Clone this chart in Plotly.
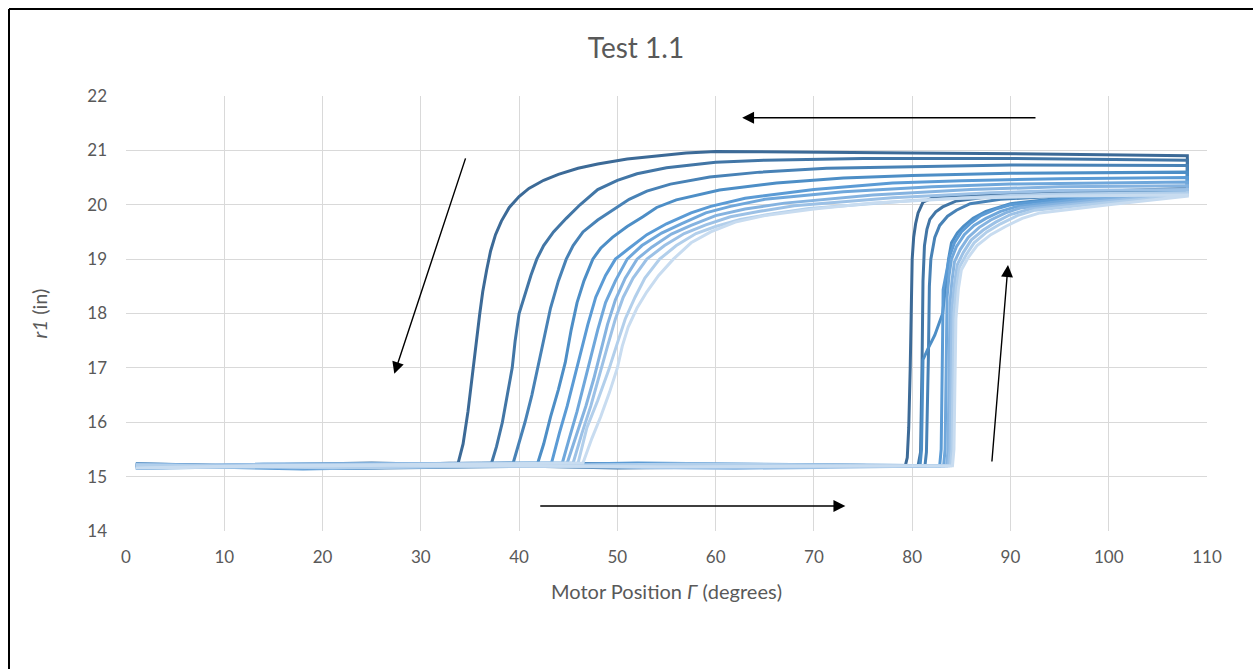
import plotly.graph_objects as go

# Ten load/unload cycles of r1 against motor position, darkest = first cycle.
CYCLE_COLORS = [
    "#3c6a97", "#4276a6", "#4882b6", "#4d8ec6", "#5b9bd5",
    "#6fa7db", "#85b3e0", "#9cc1e6", "#b2cfeb", "#c8dcf0",
]

# Loading branch (motor position increasing)
LOAD_X = [
    [1, 20, 45, 79.3, 79.5, 79.65, 79.8, 79.9, 80.0, 80.15, 80.35, 80.6, 81.1, 82, 84, 90, 100, 108],
    [1, 25, 50, 80.6, 80.85, 80.95, 81.0, 81.1, 81.25, 81.5, 81.8, 82.4, 83.1, 84.5, 87, 95, 108],
    [1, 22, 55, 81.3, 81.45, 81.55, 81.65, 81.75, 81.9, 82.3, 82.8, 83.6, 84.5, 85.9, 89, 97, 108],
    [1, 28, 60, 80.8, 80.95, 81.05, 81.1, 81.6, 82.3, 83.1, 83.4, 83.7, 84.0, 84.6, 85.2, 86.2, 87.5, 90, 96, 108],
    [1, 18, 52, 82.8, 82.95, 83.05, 83.1, 83.15, 83.5, 83.8, 84.3, 85.0, 86.0, 87.0, 88.5, 90, 96, 108],
    [1, 30, 58, 83.2, 83.35, 83.45, 83.5, 83.55, 83.75, 84.0, 84.5, 85.3, 86.3, 87.5, 89, 90.5, 97, 108],
    [1, 24, 48, 83.5, 83.65, 83.75, 83.8, 83.85, 84.05, 84.3, 84.9, 85.7, 86.8, 88.0, 89.5, 91, 98, 108],
    [1, 26, 62, 83.7, 83.85, 83.95, 84.0, 84.05, 84.3, 84.6, 85.2, 86.0, 87.2, 88.5, 90, 92, 99, 108],
    [1, 21, 57, 83.9, 84.05, 84.15, 84.2, 84.25, 84.5, 84.8, 85.5, 86.3, 87.6, 89.0, 90.7, 92.5, 100, 108],
    [1, 27, 54, 84.1, 84.25, 84.35, 84.4, 84.45, 84.7, 85.0, 85.7, 86.6, 88.0, 89.5, 91.2, 93, 100, 108],
]
LOAD_Y = [
    [15.22, 15.16, 15.24, 15.2, 15.35, 15.9, 17.0, 18.2, 19.0, 19.4, 19.65, 19.85, 20.05, 20.12, 20.15, 20.2, 20.25, 20.3],
    [15.18, 15.25, 15.16, 15.2, 15.45, 16.2, 17.0, 18.6, 19.25, 19.55, 19.73, 19.87, 19.96, 20.07, 20.13, 20.2, 20.28],
    [15.24, 15.15, 15.22, 15.2, 15.45, 16.2, 17.2, 18.5, 19.0, 19.4, 19.62, 19.79, 19.9, 20.02, 20.1, 20.18, 20.26],
    [15.16, 15.23, 15.18, 15.2, 15.5, 16.3, 17.15, 17.35, 17.6, 18.0, 18.5, 19.0, 19.3, 19.48, 19.6, 19.75, 19.88, 20.02, 20.14, 20.25],
    [15.21, 15.14, 15.25, 15.2, 15.5, 16.5, 17.6, 18.44, 18.8, 19.05, 19.3, 19.5, 19.67, 19.8, 19.92, 20.0, 20.12, 20.24],
    [15.15, 15.24, 15.17, 15.2, 15.5, 16.5, 17.6, 18.3, 18.7, 19.0, 19.23, 19.45, 19.62, 19.75, 19.88, 19.96, 20.1, 20.22],
    [15.23, 15.17, 15.22, 15.2, 15.5, 16.5, 17.5, 18.2, 18.6, 18.95, 19.18, 19.4, 19.58, 19.72, 19.85, 19.94, 20.08, 20.2],
    [15.17, 15.22, 15.15, 15.2, 15.5, 16.5, 17.4, 18.1, 18.55, 18.9, 19.12, 19.35, 19.53, 19.68, 19.82, 19.92, 20.06, 20.2],
    [15.22, 15.16, 15.23, 15.2, 15.5, 16.5, 17.3, 18.0, 18.5, 18.85, 19.08, 19.3, 19.5, 19.65, 19.8, 19.9, 20.04, 20.18],
    [15.16, 15.21, 15.18, 15.2, 15.5, 16.5, 17.2, 17.9, 18.45, 18.8, 19.03, 19.25, 19.45, 19.6, 19.75, 19.85, 20.0, 20.16],
]

# Unloading branch (motor position decreasing from 108 back to 1)
UNLOAD_X = [
    [108, 95, 80, 65, 60, 57, 54, 51, 48, 46, 44, 42.5, 41, 40, 39, 38.2, 37.6, 37.1, 36.7, 36.3, 36.0, 35.6, 35.2, 34.8, 34.3, 33.8, 20, 1],
    [108, 90, 75, 65, 60, 55, 52, 50, 48, 46.2, 44.8, 43.5, 42.5, 41.8, 41.2, 40.6, 40.0, 39.6, 39.3, 38.8, 38.3, 37.7, 37.2, 15, 1],
    [108, 90, 80, 71.3, 64.5, 59.4, 55.4, 53, 51.2, 49.5, 48, 46.5, 45.5, 44.8, 44, 43.2, 42.6, 42, 41.3, 40.6, 40, 39.4, 12, 1],
    [108, 90, 80, 73, 66.2, 60.4, 56, 54, 52.6, 51, 49.5, 48.3, 47.5, 46.6, 45.9, 45.3, 44.7, 44, 43.2, 42.5, 41.9, 16, 1],
    [108, 95, 85, 78, 70, 63, 59.5, 57.5, 55, 53, 51.2, 49.8, 48.8, 47.8, 47, 46.3, 45.6, 44.9, 44.1, 43.3, 10, 1],
    [108, 90, 82, 73, 65, 61.5, 59, 56.5, 54.5, 52.5, 51, 49.8, 48.8, 48, 47.3, 46.6, 45.9, 45.1, 44.4, 14, 1],
    [108, 95, 86, 76, 67, 63, 60, 57.5, 55.5, 53.5, 52, 50.8, 49.8, 49, 48.3, 47.6, 46.8, 45.9, 44.9, 17, 1],
    [108, 95, 88, 78, 68, 64.5, 61.5, 59, 56.8, 54.8, 53, 51.6, 50.6, 49.8, 49.0, 48.2, 47.3, 46.4, 45.5, 11, 1],
    [108, 95, 90, 80, 69.5, 66, 62.5, 60, 58, 56, 54.3, 52.8, 51.8, 50.8, 49.9, 49.1, 48.0, 46.9, 46.0, 19, 1],
    [108, 95, 85, 76, 70, 65, 62, 59.5, 57.5, 55.7, 54.2, 53, 52, 51.1, 50.5, 50, 49.2, 48.3, 47.4, 46.5, 13, 1],
]
UNLOAD_Y = [
    [20.90, 20.93, 20.95, 20.98, 20.98, 20.95, 20.9, 20.84, 20.75, 20.67, 20.56, 20.45, 20.3, 20.15, 19.95, 19.7, 19.45, 19.15, 18.8, 18.4, 18.0, 17.4, 16.8, 16.2, 15.6, 15.25, 15.18, 15.2],
    [20.82, 20.85, 20.85, 20.82, 20.78, 20.68, 20.57, 20.45, 20.28, 20.0, 19.75, 19.5, 19.25, 19.0, 18.7, 18.35, 18.0, 17.5, 17.0, 16.5, 16.0, 15.55, 15.25, 15.2, 15.22],
    [20.72, 20.73, 20.7, 20.67, 20.6, 20.51, 20.38, 20.25, 20.1, 19.9, 19.72, 19.5, 19.25, 19.0, 18.6, 18.1, 17.6, 17.1, 16.5, 16.0, 15.6, 15.25, 15.17, 15.2],
    [20.6, 20.58, 20.54, 20.49, 20.4, 20.27, 20.09, 19.95, 19.78, 19.6, 19.4, 19.2, 19.0, 18.6, 18.2, 17.7, 17.1, 16.6, 16.1, 15.6, 15.25, 15.22, 15.18],
    [20.5, 20.48, 20.44, 20.4, 20.28, 20.12, 19.97, 19.85, 19.65, 19.45, 19.2, 19.0, 18.7, 18.3, 17.8, 17.3, 16.8, 16.3, 15.8, 15.25, 15.19, 15.21],
    [20.42, 20.38, 20.33, 20.24, 20.1, 19.97, 19.85, 19.65, 19.48, 19.25, 19.0, 18.6, 18.2, 17.7, 17.2, 16.7, 16.2, 15.7, 15.25, 15.23, 15.17],
    [20.35, 20.33, 20.28, 20.18, 20.03, 19.92, 19.8, 19.62, 19.46, 19.22, 19.0, 18.65, 18.25, 17.8, 17.3, 16.8, 16.3, 15.8, 15.25, 15.16, 15.22],
    [20.28, 20.26, 20.22, 20.13, 19.98, 19.88, 19.78, 19.63, 19.47, 19.25, 19.0, 18.65, 18.3, 17.9, 17.4, 16.9, 16.3, 15.8, 15.25, 15.22, 15.18],
    [20.22, 20.2, 20.17, 20.08, 19.93, 19.84, 19.73, 19.6, 19.47, 19.25, 19.0, 18.65, 18.3, 17.9, 17.4, 16.95, 16.4, 15.9, 15.25, 15.18, 15.2],
    [20.18, 20.16, 20.12, 20.03, 19.92, 19.8, 19.68, 19.5, 19.3, 19.0, 18.7, 18.4, 18.1, 17.75, 17.4, 17.0, 16.55, 16.1, 15.7, 15.25, 15.2, 15.16],
]

X_TICKS = [0, 10, 20, 30, 40, 50, 60, 70, 80, 90, 100, 110]
Y_TICKS = [14, 15, 16, 17, 18, 19, 20, 21, 22]

# Direction-of-travel arrows: (tail x, tail y, head x, head y) in data units
ARROWS = [
    (92.7, 21.6, 62.7, 21.6),
    (34.6, 20.88, 27.3, 16.89),
    (42.0, 14.46, 73.2, 14.46),
    (88.1, 15.25, 89.75, 18.89),
]

W, H = 1253, 669
L, R, T, B = 126, 46, 96, 138
GRAY = "#595959"
FONT = "Lato, 'Open Sans', sans-serif"

fig = go.Figure()
for color, lx, ly, ux, uy in zip(CYCLE_COLORS, LOAD_X, LOAD_Y, UNLOAD_X, UNLOAD_Y):
    fig.add_trace(go.Scatter(
        x=lx + ux, y=ly + uy, mode="lines",
        line=dict(color=color, width=3),
        showlegend=False, hoverinfo="skip",
    ))

for tx, ty, hx, hy in ARROWS:
    fig.add_annotation(
        x=hx, y=hy, ax=tx, ay=ty, xref="x", yref="y", axref="x", ayref="y",
        text="", showarrow=True, arrowhead=2, arrowsize=1.7, arrowwidth=1.4,
        arrowcolor="black", standoff=0, startstandoff=0,
    )

# Chart frame (top and left edges)
pw, ph = W - L - R, H - T - B
def px_to_paper(px, py):
    return (px - L) / pw, (H - B - py) / ph

x0, y0 = px_to_paper(9, 9)
x1, _ = px_to_paper(W + 5, 9)
_, yb = px_to_paper(9, H + 5)
fig.add_shape(type="line", xref="paper", yref="paper", x0=x0, y0=y0, x1=x1, y1=y0,
              line=dict(color="black", width=2))
fig.add_shape(type="line", xref="paper", yref="paper", x0=x0, y0=y0, x1=x0, y1=yb,
              line=dict(color="black", width=2))

fig.update_layout(
    width=W, height=H,
    margin=dict(l=L, r=R, t=T, b=B),
    paper_bgcolor="white", plot_bgcolor="white",
    font=dict(family=FONT, color=GRAY, size=15),
    title=dict(text="Test 1.1", x=636 / W, xref="container", xanchor="center",
               y=1 - 48 / H, yref="container", yanchor="middle",
               font=dict(size=28, color=GRAY, family=FONT)),
)
fig.update_xaxes(
    range=[0, 110], tickvals=X_TICKS, showgrid=True, gridcolor="#d9d9d9", gridwidth=1,
    zeroline=False, showline=False, ticks="", ticklabelstandoff=14,
    tickfont=dict(size=17, color=GRAY),
    title=dict(text="Motor Position <i>Γ</i> (degrees)", font=dict(size=20, color=GRAY), standoff=18),
)
fig.update_yaxes(
    range=[14, 22], tickvals=Y_TICKS, showgrid=True, gridcolor="#d9d9d9", gridwidth=1,
    zeroline=False, showline=False, ticks="", ticklabelstandoff=18,
    tickfont=dict(size=17, color=GRAY),
    title=dict(text="<i>r1</i> (in)", font=dict(size=20, color=GRAY), standoff=34),
)

fig.write_html("out.html")
